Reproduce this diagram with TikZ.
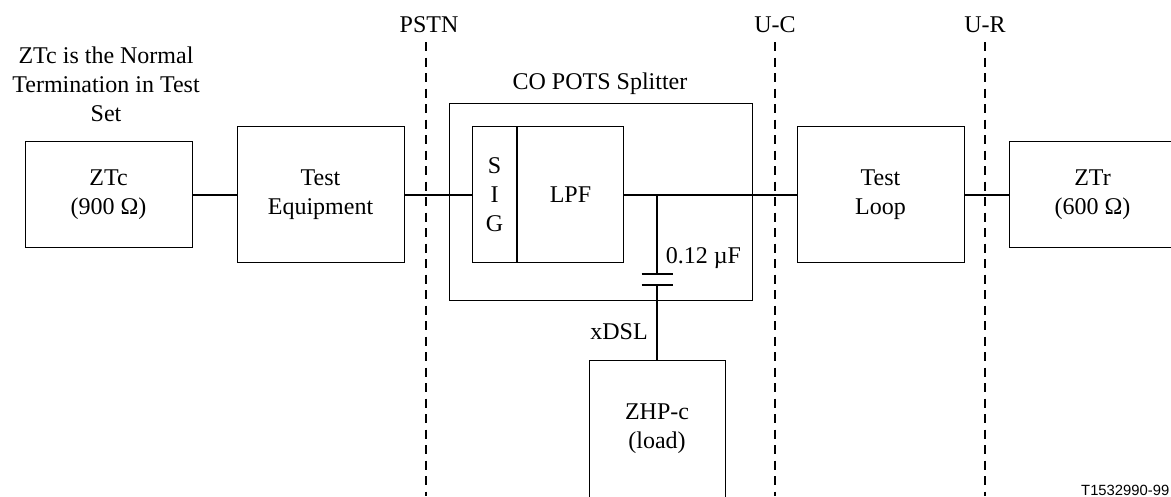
\documentclass[tikz,border=0pt]{standalone}
\usepackage{fontspec}
\setmainfont{Liberation Serif}
\newfontfamily\refont{Liberation Sans}
\tikzset{
  block/.style={draw=black,line width=0.9pt,inner sep=0pt,outer sep=0pt,align=center},
  wire/.style={line width=2pt,yshift=-0.5pt},
  plate/.style={line width=2pt},
  bound/.style={line width=2pt,dash pattern=on 9pt off 6.5pt},
  lbl/.style={inner sep=0pt,align=center}
}
\begin{document}
\begin{tikzpicture}[x=1pt,y=-1pt,every node/.style={font=\fontsize{24}{28.8}\selectfont}]
\useasboundingbox (0,0) rectangle (1171,496);
% Reference planes
\foreach \n/\t/\x/\lx in {pstn/PSTN/426/429,uc/U-C/775/775,ur/U-R/985/985} {
  \node[lbl] (\n) at (\lx,25) {\t};
  \coordinate (\n top) at (\x,42);
  \coordinate (\n bot) at (\x,496);
  \draw[bound] (\n top)--(\n bot);
}
% Blocks on the line
\node[block,minimum width=167pt,minimum height=106pt] (ztc) at (108.5,194.5) {ZTc\\(900 Ω)};
\node[block,minimum width=167pt,minimum height=136pt] (equip) at (320.5,194.5) {Test\\Equipment};
\node[block,minimum width=167pt,minimum height=136pt] (loop) at (880.5,194.5) {Test\\Loop};
\node[block,minimum width=167pt,minimum height=106pt] (ztr) at (1092.5,194.5) {ZTr\\(600 Ω)};
% Splitter
\node[block,minimum width=303pt,minimum height=197pt] (splitter) at (600.5,201.5) {};
\node[block,minimum width=45pt,minimum height=136pt] (sig) at (494.5,194.5) {S\\I\\G};
\node[block,minimum width=106pt,minimum height=136pt] (lpf) at (570.5,194.5) {LPF};
\draw[line width=1.6pt] (sig.north east)--(sig.south east);
\node[lbl] (title) at (600,84) {CO POTS Splitter};
\node[lbl] (note) at (106,84) {ZTc is the Normal\\Termination in Test\\Set};
% Load
\node[block,minimum width=136pt,minimum height=137pt] (zhp) at (657,428.5) {ZHP-c\\(load)};
% Wires
\draw[wire] (ztc)--(equip);
\draw[wire] (equip)--(sig);
\draw[wire] (lpf)--(loop);
\draw[wire] (loop)--(ztr);
% Capacitor
\coordinate (tap) at (657,194.5);
\coordinate (capa) at (657,274);
\coordinate (capb) at (657,285);
\draw[line width=2pt] (tap)--(capa);
\draw[plate] ([xshift=-15.5pt]capa)--([xshift=15.5pt]capa);
\draw[plate] ([xshift=-15.5pt]capb)--([xshift=15.5pt]capb);
\draw[line width=2pt] (capb)--(zhp);
\node[lbl] (cval) at (703.5,258) {0.12 µF};
\node[lbl] (xdsl) at (619,332) {xDSL};
\node[lbl,anchor=south west,font=\refont\fontsize{14.8}{18}\selectfont] (refno) at (1081,495.5) {T1532990-99};
\end{tikzpicture}
\end{document}
